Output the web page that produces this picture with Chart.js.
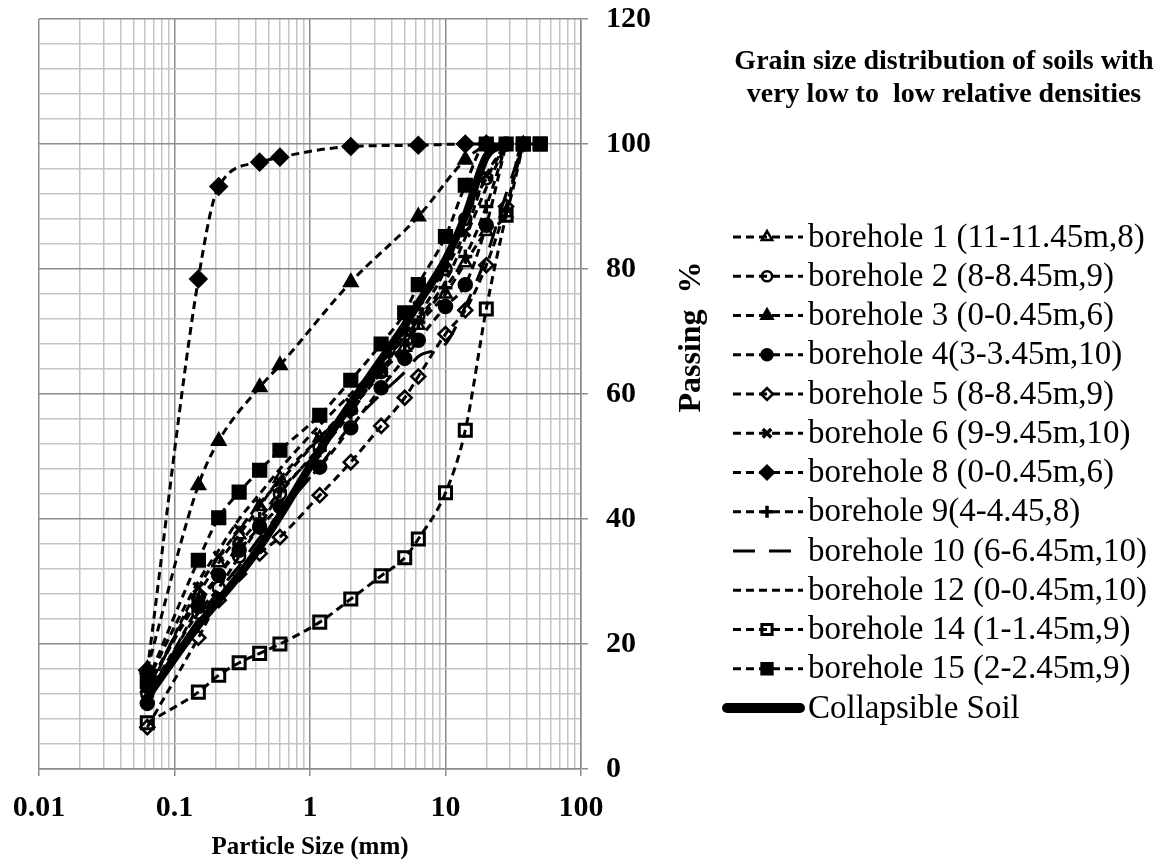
<!DOCTYPE html>
<html>
<head>
<meta charset="utf-8">
<title>Grain size distribution</title>
<script src="https://cdn.jsdelivr.net/npm/chart.js@4.4.1/dist/chart.umd.min.js"></script>
<style>
  html, body { margin: 0; padding: 0; background: #fff; }
  #wrap { width: 1162px; height: 867px; position: relative; }
</style>
</head>
<body>
<div id="wrap"><canvas id="gsd-chart"></canvas></div>
<script>
// sieve openings (mm), every sample is read against these
const sieveSizes = [0.063, 0.15, 0.212, 0.3, 0.425, 0.6, 1.18, 2, 3.35, 5, 6.3, 10, 14, 20, 28, 37.5, 50];

// percent passing per sample (null = no reading at that sieve)
const bh1Pass  = [13, 28, 33, 37.5, 42, 46.5, 53, 58, 63.5, 67.5, 71, 76, 81, 86, 89, 100, null];
const bh2Pass  = [12, 25, 29, 34, 39, 44, 51.5, 57.5, 63.5, 69.5, 72.5, 80, 88, 94.5, 100, null, null];
const bh3Pass  = [16, 45.4, 52.5, null, 61.1, 64.6, null, 77.9, null, null, 88.4, null, 97.5, 100, null, null, null];
const bh4Pass  = [10.5, 26, 31, 35, 38.7, 42, 48.3, 54.6, 61, 65.7, 68.6, 74, 77.5, 87, 100, null, null];
const bh5Pass  = [6.7, 21, 27, 31.2, 34.5, 37.1, 43.8, 49.1, 54.9, 59.4, 62.8, 69.6, 73.4, 80.6, 90, 100, null];
const bh6Pass  = [12, 29, 34, 38.3, 42.5, 46, 53, 58.5, 64, 70, 74, 80, 86, 95, 100, null, null];
const bh8Pass  = [15.8, 78.4, 93.2, null, 97.1, 97.9, null, 99.6, null, null, 99.8, null, 100, 100, null, null, null];
const bh9Pass  = [13, 27, 31, 36, 40, 44.5, 51, 57, 64, 68, 71.5, 77, 82, 90, 100, null, null];
const bh10Pass = [11, 24, 28.5, 32.5, 37, 41, 48.5, 55, 60, 63.5, 66, 68, 74, 82, 92, 100, null];
const bh12Pass = [14, 30, 35, 40, 44, 48, 55, 60, 65, 69, 72, 78, 85, 93, 100, null, null];
const bh14Pass = [7.4, 12.3, 15, 17, 18.5, 20, 23.5, 27.2, 30.9, 33.8, 36.8, 44.2, 54.2, 73.6, 88.6, 100, 100];
const bh15Pass = [14, 33.4, 40.2, 44.3, 47.8, 51, 56.6, 62.2, 68, 73, 77.5, 85.2, 93.4, 100, 100, 100, 100];
const collapsiblePass = [11.5, 23, 27, 31, 35.5, 40.5, 51, 58.5, 65.5, 71, 74.5, 81.5, 88.5, 98, 100, null, null];

const seriesNames = [
  'borehole 1 (11-11.45m,8)',
  'borehole 2 (8-8.45m,9)',
  'borehole 3 (0-0.45m,6)',
  'borehole 4(3-3.45m,10)',
  'borehole 5 (8-8.45m,9)',
  'borehole 6 (9-9.45m,10)',
  'borehole 8 (0-0.45m,6)',
  'borehole 9(4-4.45,8)',
  'borehole 10 (6-6.45m,10)',
  'borehole 12 (0-0.45m,10)',
  'borehole 14 (1-1.45m,9)',
  'borehole 15 (2-2.45m,9)',
  'Collapsible Soil'
];

const xTickLabels = [0.01, 0.1, 1, 10, 100];
const yTickLabels = [0, 20, 40, 60, 80, 100, 120];
const titleLines = ['Grain size distribution of soils with', 'very low to  low relative densities'];

const SERIF = '"Times New Roman", "Liberation Serif", serif';
const DASH = [8, 5];
const OPEN = 'rgba(0,0,0,0)';

const toPoints = (pass) => sieveSizes
  .map((s, i) => ({ x: s, y: pass[i] }))
  .filter(p => p.y !== null);

const makeSeries = (name, pass, style) => Object.assign({
  label: name,
  data: toPoints(pass),
  borderColor: '#000',
  borderWidth: 3,
  borderDash: DASH,
  pointBorderColor: '#000',
  pointBackgroundColor: '#000',
  pointBorderWidth: 2.5,
  pointRadius: 6,
  pointStyle: 'circle',
  cubicInterpolationMode: 'monotone',
  fill: false
}, style);

const datasets = [
  makeSeries(seriesNames[0], bh1Pass, { pointStyle: 'triangle', pointBackgroundColor: OPEN, pointRadius: 7 }),
  makeSeries(seriesNames[1], bh2Pass, { pointStyle: 'circle', pointBackgroundColor: OPEN, pointRadius: 6 }),
  makeSeries(seriesNames[2], bh3Pass, { pointStyle: 'triangle', pointRadius: 7.5 }),
  makeSeries(seriesNames[3], bh4Pass, { pointStyle: 'circle', pointRadius: 6.5 }),
  makeSeries(seriesNames[4], bh5Pass, { pointStyle: 'rectRot', pointBackgroundColor: OPEN, pointRadius: 7 }),
  makeSeries(seriesNames[5], bh6Pass, { pointStyle: 'crossRot', pointRadius: 7, pointBorderWidth: 3.5 }),
  makeSeries(seriesNames[6], bh8Pass, { pointStyle: 'rectRot', pointRadius: 8 }),
  makeSeries(seriesNames[7], bh9Pass, { pointStyle: 'cross', pointRadius: 7, pointBorderWidth: 3.5 }),
  makeSeries(seriesNames[8], bh10Pass, { borderDash: [22, 14], pointRadius: 0 }),
  makeSeries(seriesNames[9], bh12Pass, { pointRadius: 0 }),
  makeSeries(seriesNames[10], bh14Pass, { pointStyle: 'rect', pointBackgroundColor: OPEN, pointRadius: 8.5, pointBorderWidth: 3 }),
  makeSeries(seriesNames[11], bh15Pass, { pointStyle: 'rect', pointRadius: 9 }),
  makeSeries(seriesNames[12], collapsiblePass, { borderDash: [], borderWidth: 8, pointRadius: 0, borderCapStyle: 'round', borderJoinStyle: 'round' })
];

const isDecade = (v) => Math.abs(Math.log10(v) - Math.round(Math.log10(v))) < 1e-6;

// decade + 2..9 grid lines for the log axis
const xGrid = [];
xTickLabels.forEach((d, i) => {
  if (i === xTickLabels.length - 1) { xGrid.push(d); return; }
  for (let k = 1; k <= 9; k++) xGrid.push(d * k);
});
const yGrid = [];
for (let v = 0; v <= 120; v += 4) yGrid.push(v);

// keep the plot box fixed, labels may hang outside it
const noScalePadding = (s) => {
  s.paddingTop = 0; s.paddingBottom = 0; s.paddingLeft = 0; s.paddingRight = 0;
};

// title, rotated y title and line+marker legend on the right
const sidePanel = {
  id: 'sidePanel',
  afterDraw(chart) {
    const ctx = chart.ctx;
    ctx.save();
    ctx.fillStyle = '#000';
    ctx.textAlign = 'center';
    ctx.textBaseline = 'middle';
    ctx.font = 'bold 28px ' + SERIF;
    ctx.fillText(titleLines[0], 944, 62);
    ctx.fillText(titleLines[1], 944, 95);

    ctx.save();
    ctx.translate(692, 337);
    ctx.rotate(-Math.PI / 2);
    ctx.font = 'bold 32px ' + SERIF;
    ctx.fillText('Passing  %', 0, 0);
    ctx.restore();

    ctx.textAlign = 'left';
    ctx.font = '33px ' + SERIF;
    chart.data.datasets.forEach((ds, i) => {
      const y = 237 + i * 39.25;
      const thick = ds.borderWidth === 8;
      ctx.strokeStyle = '#000';
      ctx.lineWidth = thick ? 10 : ds.borderWidth;
      ctx.lineCap = thick ? 'round' : 'butt';
      ctx.setLineDash(ds.borderDash || []);
      ctx.beginPath();
      ctx.moveTo(thick ? 727 : 733, y);
      ctx.lineTo(thick ? 800 : 803, y);
      ctx.stroke();
      if (ds.pointRadius > 0) {
        ctx.setLineDash([]);
        ctx.lineCap = 'butt';
        ctx.fillStyle = ds.pointBackgroundColor;
        ctx.lineWidth = ds.pointBorderWidth;
        Chart.helpers.drawPoint(ctx, {
          pointStyle: ds.pointStyle, rotation: 0,
          radius: ds.pointRadius * 0.85, borderWidth: ds.pointBorderWidth
        }, 767, y);
      }
      ctx.fillStyle = '#000';
      ctx.fillText(ds.label, 808, y + 1);
    });
    ctx.restore();
  }
};

const ctx = document.getElementById('gsd-chart').getContext('2d');
const gsdChart = new Chart(ctx, {
  type: 'line',
  data: { datasets: datasets },
  options: {
    responsive: true,
    maintainAspectRatio: false,
    animation: false,
    devicePixelRatio: 1,
    layout: { padding: { left: 39, right: 481, top: 19, bottom: 0 } },
    plugins: { legend: { display: false }, tooltip: { enabled: false } },
    scales: {
      x: {
        type: 'logarithmic',
        min: 0.01,
        max: 100,
        afterBuildTicks: (s) => { s.ticks = xGrid.map(v => ({ value: v })); },
        afterFit: (s) => { s.height = 98; noScalePadding(s); },
        ticks: {
          autoSkip: false,
          maxRotation: 0,
          padding: 14,
          color: '#000',
          font: { family: SERIF, size: 30, weight: 'bold' },
          callback: (v) => (isDecade(v) ? String(xTickLabels.find(d => Math.abs(d - v) < d * 1e-6)) : '')
        },
        grid: {
          color: (c) => (c.tick && isDecade(c.tick.value) ? '#8c8c8c' : '#c4c4c4'),
          tickColor: (c) => (c.tick && isDecade(c.tick.value) ? '#8c8c8c' : 'rgba(0,0,0,0)'),
          lineWidth: 1.5,
          tickLength: 7
        },
        border: { color: '#8c8c8c', width: 1.5 },
        title: {
          display: true,
          text: 'Particle Size (mm)',
          color: '#000',
          font: { family: SERIF, size: 25, weight: 'bold' },
          padding: { top: 0, bottom: 4 }
        }
      },
      y: {
        type: 'linear',
        position: 'right',
        min: 0,
        max: 120,
        afterBuildTicks: (s) => { s.ticks = yGrid.map(v => ({ value: v })); },
        afterFit: (s) => { s.width = 100; noScalePadding(s); },
        ticks: {
          autoSkip: false,
          padding: 18,
          color: '#000',
          font: { family: SERIF, size: 30, weight: 'bold' },
          callback: (v) => (yTickLabels.includes(v) ? String(v) : '')
        },
        grid: {
          color: (c) => (c.tick && yTickLabels.includes(c.tick.value) ? '#8c8c8c' : '#c4c4c4'),
          tickColor: (c) => (c.tick && yTickLabels.includes(c.tick.value) ? '#8c8c8c' : 'rgba(0,0,0,0)'),
          lineWidth: 1.5,
          tickLength: 7
        },
        border: { color: '#8c8c8c', width: 1.5 }
      }
    }
  },
  plugins: [sidePanel]
});
</script>
</body>
</html>
